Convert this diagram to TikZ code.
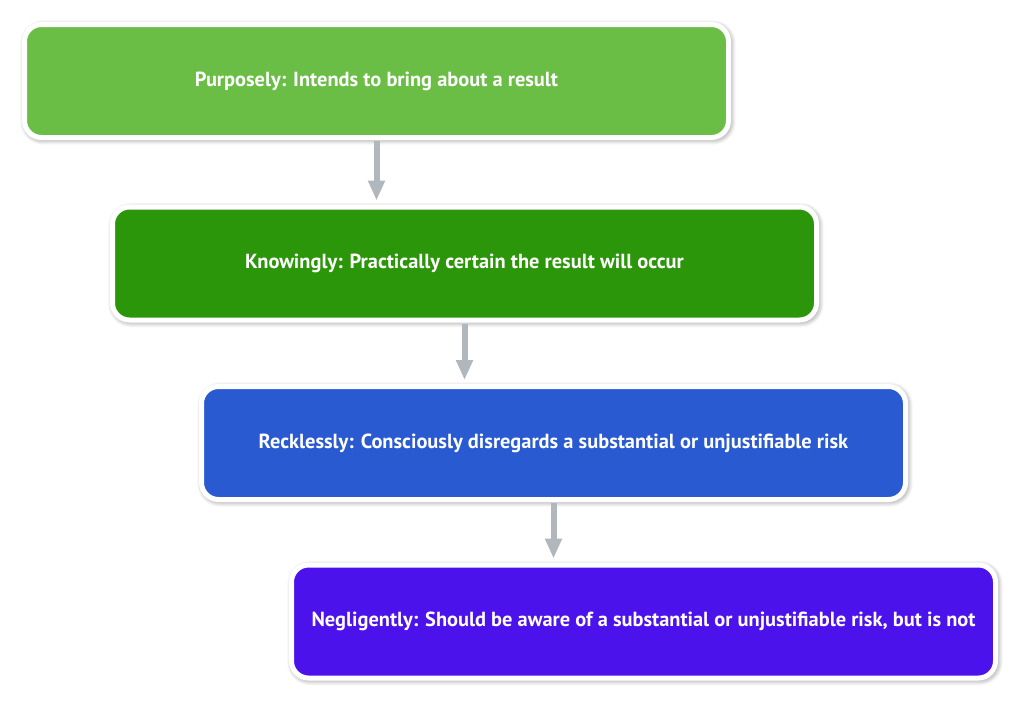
\documentclass[tikz,border=0pt]{standalone}
\usepackage{fontspec}
\setmainfont{PT Sans}
\usetikzlibrary{shadows.blur,arrows.meta}
\definecolor{cA}{RGB}{106,190,69}
\definecolor{cB}{RGB}{44,150,10}
\definecolor{cC}{RGB}{42,90,210}
\definecolor{cD}{RGB}{76,18,236}
\definecolor{arr}{RGB}{176,184,190}
\tikzset{
  stepbox/.style={draw=white, line width=5pt, rounded corners=17pt,
    minimum width=704pt, minimum height=113pt, inner sep=0pt,
    text=white, font=\bfseries\fontsize{20.4}{24}\selectfont,
    blur shadow={shadow xshift=1.5pt, shadow yshift=-1.5pt, shadow blur steps=10, shadow opacity=55, shadow blur radius=6pt}},
  flow/.style={draw=arr, line width=6pt, -{Triangle[width=16pt,length=20pt]}, shorten >=4pt, shorten <=1pt}
}
\begin{document}
\begin{tikzpicture}[x=1pt,y=-1pt]
\useasboundingbox (0,0) rectangle (1024,705);
\node[stepbox, fill=cA] (b1) at (376.5,81) {Purposely: Intends to bring about a result};
\node[stepbox, fill=cB] (b2) at (464.5,263.5) {Knowingly: Practically certain the result will occur};
\node[stepbox, fill=cC] (b3) at (553.5,443) {Recklessly: Consciously disregards a substantial or unjustifiable risk};
\node[stepbox, fill=cD] (b4) at (643.5,621.5) {Negligently: Should be aware of a substantial or unjustifiable risk, but is not};
\draw[flow] (b1.south) -- (b1.south |- b2.north);
\draw[flow] (b2.south) -- (b2.south |- b3.north);
\draw[flow] (b3.south) -- (b3.south |- b4.north);
\end{tikzpicture}
\end{document}
